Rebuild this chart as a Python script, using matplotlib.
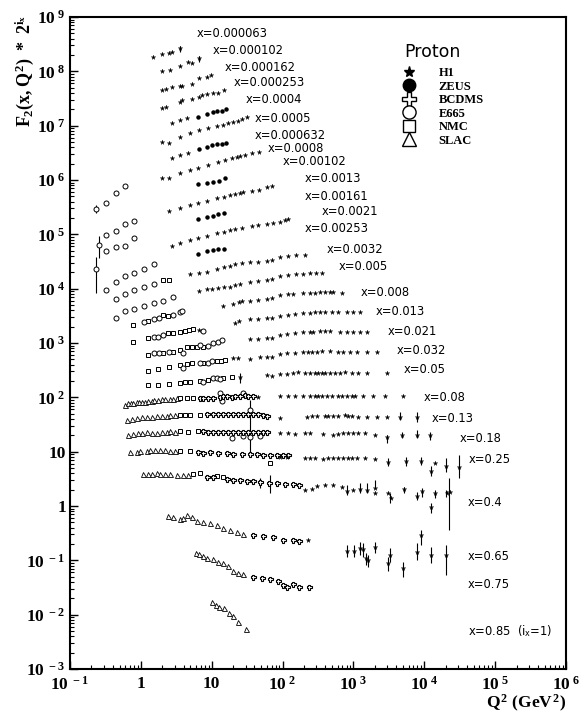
import matplotlib
matplotlib.use('Agg')
from matplotlib import pyplot as plt
from matplotlib.lines import Line2D
from matplotlib.ticker import LogLocator, NullFormatter

plt.rcParams['mathtext.fontset'] = 'custom'
plt.rcParams['mathtext.rm'] = 'Liberation Serif:bold'
plt.rcParams['mathtext.it'] = 'Liberation Serif:bold'
plt.rcParams['mathtext.bf'] = 'Liberation Serif:bold'
plt.rcParams['mathtext.sf'] = 'DejaVu Sans'

# ---- data: F2(x,Q2) * 2^i_x ----
h1_q2 = [
    1.48, 1.99, 2.49, 2.75, 3.56,                                        # x=0.000063
    1.99, 2.57, 3.56, 4.62, 5.26, 6.6,                                   # x=0.000102
    1.99, 2.26, 2.75, 3.56, 3.8, 5.26, 6.6, 8.55, 9.75,                  # x=0.000162
    1.99, 2.26, 3.56, 3.8, 5.26, 6.6, 7.27, 8.55, 10.4, 12.2, 14.9,      # x=0.000253
    2.75, 3.56, 4.47,                                                    # x=0.0004
    1.99, 2.49, 3.56, 4.93, 6.6, 8.84, 11.8, 14.4, 16.9, 19.9, 23.4, 26.7, 31.4,   # x=0.0005
    2.75, 3.56, 4.62,                                                    # x=0.000632
    1.99, 2.49, 3.56, 4.93, 6.39, 8.84, 12.2, 15.4, 19.3, 22.7, 25.0, 29.4, 36.9, 46.3,  # x=0.0008
    2.49, 3.56, 4.93, 6.39, 8.55, 11.8, 14.9, 18.1, 21.2, 25.0, 27.5, 36.9, 46.3, 60.1, 70.6,  # x=0.0013
    2.75, 3.56, 4.93, 6.39, 8.55, 11.8, 14.9, 18.1, 21.2, 26.7, 36.9, 44.8, 60.1, 73.0, 91.6, 108, 119,  # x=0.0021
    4.93, 6.6, 8.55, 11.8, 14.9, 18.1, 21.2, 26.7, 34.6, 44.8, 60.1, 70.6, 91.6, 119, 154, 206,  # x=0.0032
    6.6, 8.55, 10.1, 12.2, 14.9, 18.1, 21.2, 25.0, 34.6, 44.8, 60.1, 70.6, 91.6, 119, 154, 193, 243, 295, 358,  # x=0.005
    14.4, 19.9, 24.2, 26.7, 34.6, 44.8, 60.1, 70.6, 91.6, 119, 140, 193, 243, 286, 336, 395, 465, 512, 686,  # x=0.008
    6.6, 21.2, 24.2, 34.6, 44.8, 60.1, 70.6, 91.6, 119, 149, 193, 243, 286, 336, 395, 496, 603, 807, 982, 1230,  # x=0.013
    34.6, 44.8, 60.1, 70.6, 91.6, 115, 149, 193, 243, 268, 336, 395, 465, 643, 807, 982, 1230, 1545,  # x=0.021
    19.9, 23.4, 34.6, 47.9, 60.1, 70.6, 91.6, 115, 149, 193, 227, 259, 305, 358, 465, 603, 709, 889, 1117, 1545, 2138,  # x=0.032
    25.0, 60.1, 70.6, 91.6, 115, 140, 164, 206, 243, 286, 315, 358, 395, 465, 546, 643, 755, 948, 1153, 1545, 2951,  # x=0.05
    44.8, 91.6, 119, 149, 193, 243, 286, 315, 358, 421, 496, 603, 686, 807, 948, 1047, 1357, 1878, 2773, 4975,  # x=0.08
    91.6, 220, 259, 305, 395, 435, 512, 603, 755, 834, 948, 1153, 1545, 2138, 2951, 4510, 7834,  # x=0.13
    91.6, 119, 149, 206, 243, 370, 512, 603, 709, 834, 982, 1153, 1449, 2004, 2951, 4818, 7834, 11960,  # x=0.18
    91.6, 115, 206, 243, 286, 370, 435, 512, 603, 709, 834, 948, 1117, 1449, 2004, 3055, 5483, 8933,
    12350, 14060, 20090, 30690,                                          # x=0.25
    206, 259, 305, 395, 512, 686, 807, 982, 1230, 1545, 2004, 2004, 3055, 3368, 5140, 7834, 9224,
    12350, 14060, 20770, 22900,                                          # x=0.4
    227, 807, 1013, 1230, 1357, 1496, 1596, 2004, 3055, 3260, 4975, 7834, 8933, 12350, 20090,  # x=0.65
]
h1_f2 = [
    1.83e8, 2.08e8, 2.17e8, 2.27e8, 2.69e8,
    1.01e8, 1.06e8, 1.25e8, 1.48e8, 1.42e8, 1.76e8,
    4.53e7, 4.72e7, 5.14e7, 5.36e7, 5.36e7, 5.83e7, 7.53e7, 7.85e7, 8.55e7,
    2.11e7, 2.20e7, 2.72e7, 2.96e7, 3.09e7, 3.36e7, 3.66e7, 3.82e7, 3.98e7, 3.98e7, 4.53e7,
    1.12e7, 1.27e7, 1.38e7,
    4.99e6, 4.78e6, 6.16e6, 7.30e6, 8.29e6, 9.04e6, 9.84e6, 1.03e7, 1.12e7, 1.16e7, 1.22e7, 1.32e7, 1.44e7,
    2.53e6, 2.88e6, 3.13e6,
    1.08e6, 1.08e6, 1.34e6, 1.52e6, 1.66e6, 1.88e6, 2.14e6, 2.32e6, 2.53e6, 2.64e6, 2.75e6, 2.88e6, 3.13e6, 3.26e6,
    2.67e5, 3.04e5, 3.45e5, 3.76e5, 4.09e5, 4.65e5, 4.85e5, 5.27e5, 5.50e5, 5.74e5, 5.99e5, 6.24e5, 6.51e5, 7.40e5, 7.72e5,
    6.06e4, 6.89e4, 7.82e4, 8.51e4, 9.27e4, 1.05e5, 1.10e5, 1.19e5, 1.25e5, 1.30e5, 1.42e5, 1.48e5, 1.54e5,
    1.61e5, 1.68e5, 1.82e5, 1.91e5,
    1.85e4, 1.93e4, 2.01e4, 2.29e4, 2.49e4, 2.60e4, 2.83e4, 2.95e4, 3.08e4, 3.08e4, 3.21e4, 3.35e4, 3.80e4,
    3.97e4, 4.14e4, 4.14e4,
    9.0e3, 9.79e3, 9.79e3, 1.02e4, 1.07e4, 1.07e4, 1.16e4, 1.21e4, 1.32e4, 1.37e4, 1.43e4, 1.50e4, 1.70e4,
    1.77e4, 1.85e4, 1.85e4, 1.93e4, 1.93e4, 1.93e4,
    4.76e3, 5.19e3, 5.65e3, 5.89e3, 5.89e3, 6.14e3, 6.41e3, 6.69e3, 7.59e3, 7.92e3, 7.92e3, 8.26e3, 8.26e3,
    8.26e3, 8.62e3, 8.62e3, 8.62e3, 8.62e3, 8.26e3,
    1.72e3, 2.32e3, 2.52e3, 2.75e3, 2.75e3, 2.87e3, 2.87e3, 3.12e3, 3.25e3, 3.40e3, 3.54e3, 3.54e3, 3.70e3,
    3.70e3, 3.70e3, 3.70e3, 3.70e3, 3.70e3, 3.70e3, 3.70e3,
    1.17e3, 1.17e3, 1.23e3, 1.23e3, 1.39e3, 1.45e3, 1.51e3, 1.58e3, 1.58e3, 1.58e3, 1.65e3, 1.65e3, 1.65e3,
    1.58e3, 1.58e3, 1.58e3, 1.58e3, 1.58e3,
    525, 525, 503, 548, 548, 548, 622, 649, 649, 677, 677, 677, 677, 707, 707, 677, 677, 677, 677, 677, 677,
    235, 255, 250, 265, 270, 278, 290, 278, 278, 278, 278, 278, 278, 278, 278, 278, 290, 278, 278, 278, 278,
    100, 105, 105, 105, 105, 105, 105, 105, 105, 105, 105, 105, 105, 105, 105, 105, 105, 105, 105, 105,
    41.2, 43.0, 44.8, 44.8, 44.8, 44.8, 44.8, 44.8, 46.8, 44.8, 44.8, 43.0, 43.0, 43.0, 43.0, 43.0, 43.0,
    21.8, 21.8, 20.9, 21.8, 21.8, 20.9, 20.1, 20.9, 21.8, 21.8, 21.8, 21.8, 21.8, 20.1, 18.4, 20.1, 20.1, 20.1,
    7.87, 7.87, 7.55, 7.55, 7.55, 7.24, 7.55, 7.55, 7.55, 7.55, 7.55, 7.55, 7.55, 7.55, 7.24, 6.38, 6.65,
    6.65, 4.35, 6.11, 5.38, 5.16,
    1.95, 2.03, 2.31, 2.41, 2.41, 2.21, 1.87, 1.95, 2.03, 1.95, 2.12, 1.71, 1.71, 1.39, 2.03, 1.51, 1.87,
    0.946, 1.71, 1.71, 1.79,
    0.234, 0.147, 0.147, 0.166, 0.159, 0.109, 0.100, 0.174, 0.088, 0.124, 0.071, 0.140, 0.289, 0.124, 0.124,
]

zeus_q2 = [
    6.39, 8.55, 10.4, 11.8, 13.9, 15.9,     # x=0.0004
    6.6, 8.55, 10.1, 11.8, 13.9, 15.9,      # x=0.000632
    6.39, 8.55, 10.4, 12.6, 15.4,           # x=0.00102
    6.39, 8.55, 10.4, 12.2, 14.9,           # x=0.00161
    6.39, 8.55, 10.4, 12.2, 14.9,           # x=0.00253
]
zeus_f2 = [
    1.44e7, 1.64e7, 1.78e7, 1.86e7, 1.86e7, 2.02e7,
    3.71e6, 4.04e6, 4.40e6, 4.58e6, 4.58e6, 4.78e6,
    8.40e5, 8.77e5, 9.14e5, 9.53e5, 1.08e6,
    1.91e5, 2.07e5, 2.16e5, 2.36e5, 2.46e5,
    4.32e4, 4.91e4, 5.12e4, 5.34e4, 5.34e4,
]

bcdms_q2 = [
    6.82, 7.51, 8.84, 10.4, 13.0, 14.4, 16.4, 19.3, 21.2, 25.0, 29.4, 32.4, 38.1,            # x=0.08
    8.55, 10.4, 12.2, 14.4, 16.9, 19.9, 23.4, 27.5, 32.4, 38.1, 44.8, 52.7, 60.1,           # x=0.13
    7.51, 8.84, 10.4, 12.2, 14.4, 16.9, 19.9, 23.4, 27.5, 32.4, 38.1, 44.8, 52.7, 60.1,     # x=0.18
    6.39, 7.51, 9.44, 12.2, 16.4, 19.9, 26.7, 34.6, 43.4, 52.7, 66.2, 83.2, 101, 119,       # x=0.25
    8.55, 10.4, 16.4, 19.9, 25.0, 31.4, 38.1, 47.9, 64.1, 83.2, 108, 140, 170,              # x=0.4
    38.1, 52.7, 73.0, 101, 140, 170,                                                        # x=0.65
    38.1, 51.0, 66.2, 85.9, 101, 115, 140, 170, 235,                                        # x=0.75
]
bcdms_f2 = [
    96.2, 96.2, 96.2, 96.2, 100, 105, 105, 100, 105, 105, 109, 105, 105,
    48.8, 48.8, 48.8, 48.8, 48.8, 48.8, 48.8, 48.8, 48.8, 48.8, 48.8, 46.8, 44.8,
    23.8, 22.8, 22.8, 22.8, 22.8, 22.8, 22.8, 22.8, 22.8, 22.8, 22.8, 22.8, 22.8, 22.8,
    9.75, 9.34, 9.75, 9.34, 9.34, 8.95, 8.95, 8.95, 8.95, 8.58, 8.58, 8.58, 8.58, 8.58,
    3.38, 3.38, 3.10, 2.97, 2.97, 2.85, 2.85, 2.73, 2.62, 2.62, 2.51, 2.51, 2.41,
    0.289, 0.277, 0.265, 0.234, 0.234, 0.224,
    0.049, 0.047, 0.045, 0.041, 0.035, 0.032, 0.036, 0.033, 0.032,
]

e665_q2 = [
    0.232, 0.322, 0.446, 0.597,
    0.256, 0.322, 0.446, 0.597, 0.80,
    0.232, 0.322, 0.446, 0.597, 0.80,
    0.322, 0.446, 0.597, 0.80, 1.11, 1.53,
    0.446, 0.597, 0.80, 1.11, 1.53,
    0.446, 0.597, 0.80, 1.11, 1.53, 2.05, 2.84,
    1.11, 1.53, 1.80, 2.84, 3.56, 3.80,                 # x=0.008
    1.53, 1.74, 2.05, 7.51,                             # x=0.013
    1.53, 1.80, 2.49, 3.92, 6.82, 8.84, 10.4, 12.2, 13.9,   # x=0.021
    3.92, 6.82, 8.84, 10.1,                             # x=0.032
    7.51, 10.4, 11.8, 13.0,                             # x=0.05
    13.0, 13.9, 27.5,                                   # x=0.08
    34.6,                                               # x=0.13
    19.3, 27.5, 34.6, 47.9,                             # x=0.18
]
e665_f2 = [
    2.91e5, 3.76e5, 5.74e5, 7.72e5,
    6.32e4, 9.66e4, 1.15e5, 1.54e5, 1.75e5,
    2.29e4, 4.91e4, 5.81e4, 6.06e4, 8.51e4,
    9.40e3, 1.32e4, 1.70e4, 1.93e4, 2.29e4, 2.83e4,
    6.41e3, 7.92e3, 9.40e3, 1.07e4, 1.21e4,
    2.86e3, 3.85e3, 4.19e3, 4.76e3, 5.41e3, 5.89e3, 6.98e3,
    2.42e3, 2.75e3, 2.86e3, 3.25e3, 3.70e3, 3.85e3,
    1.28e3, 1.28e3, 1.39e3, 1.65e3,
    649, 649, 677, 649, 911, 873, 991, 1035, 1127,
    344, 425, 425, 462,
    190, 225, 225, 216,
    119, 84.7, 119,
    57.8,
    17.7, 19.2, 18.4, 19.2,
]

nmc_q2 = [
    2.05, 2.49,
    0.774, 1.26, 2.05, 2.41,
    0.774, 1.26, 2.41, 2.84, 3.56, 4.19, 4.77, 5.43,
    1.26, 2.05, 2.84, 3.56, 4.47, 5.26, 6.18, 7.51,
    1.26, 1.74, 2.49, 3.56, 4.47, 5.26, 7.51, 11.8, 13.5, 15.4,
    1.26, 1.74, 2.49, 3.56, 4.19, 4.93, 6.82, 8.84, 14.4, 19.3,
    3.56, 4.47, 5.43,
    3.56, 4.19, 4.93, 6.82,
    3.56, 4.62, 6.39,
    3.56, 4.93, 66.2,
    5.43, 6.82, 11.8, 14.4,
]
nmc_f2 = [
    1.43e4, 1.43e4,
    2.13e3, 2.52e3, 3.25e3, 3.12e3,
    1.03e3, 1.23e3, 1.51e3, 1.51e3, 1.58e3, 1.65e3, 1.72e3, 1.80e3,
    596, 649, 677, 737, 837, 837, 837, 837,
    303, 330, 359, 391, 407, 425, 425, 462, 462, 482,
    167, 167, 174, 182, 190, 190, 198, 207, 225, 235,
    96.2, 96.2, 96.2,
    46.8, 46.8, 46.8, 46.8,
    23.8, 22.8, 23.8,
    10.2, 10.2, 6.11,
    3.84, 4.0, 3.52, 3.38,
]

slac_q2 = [
    0.597, 0.658, 0.725, 0.774, 0.881, 0.940, 1.04, 1.14, 1.26, 1.43, 1.53, 1.74, 1.99, 2.19, 2.57, 2.84, 3.23,
    0.637, 0.748, 0.881, 1.04, 1.22, 1.43, 1.69, 1.99, 2.33, 2.57, 3.03,
    0.658, 0.774, 0.910, 1.04, 1.22, 1.43, 1.69, 1.99, 2.33, 2.57, 3.03,
    0.702, 0.881, 0.971, 1.22, 1.34, 1.58, 1.86, 2.19, 2.57, 3.03,
    1.07, 1.26, 1.43, 1.69, 1.86, 2.19, 2.57, 3.23, 3.92, 4.62,
    2.41, 2.84, 3.56, 3.92, 4.47, 5.26, 6.18, 7.51, 9.44, 11.8, 14.4, 18.1, 22.7, 27.5,
    5.98, 6.6, 7.51, 8.55, 10.4, 12.2, 14.4, 16.9, 19.9, 23.4, 27.5,
    10.1, 11.5, 12.6, 14.9, 17.5, 19.9, 23.4, 30.4,
]
slac_f2 = [
    71.6, 77.9, 77.9, 77.9, 81.3, 81.3, 81.3, 81.3, 84.7, 84.7, 88.4, 88.4, 92.2, 92.2, 92.2, 92.2, 96.2,
    37.9, 39.5, 41.2, 43.0, 43.0, 43.0, 44.8, 44.8, 44.8, 46.8, 46.8,
    20.1, 20.9, 21.8, 21.8, 22.8, 21.8, 21.8, 22.8, 22.8, 23.8, 22.8,
    9.75, 9.75, 10.2, 10.2, 10.6, 10.6, 10.6, 10.6, 10.2, 10.2,
    3.84, 3.84, 3.84, 4.0, 3.84, 3.84, 3.84, 3.67, 3.67, 3.67,
    0.646, 0.619, 0.569, 0.594, 0.674, 0.619, 0.523, 0.501, 0.480, 0.441, 0.388, 0.357, 0.328, 0.301,
    0.135, 0.129, 0.119, 0.109, 0.104, 0.092, 0.088, 0.078, 0.065, 0.058, 0.055,
    0.0169, 0.0148, 0.0136, 0.0131, 0.0106, 0.0093, 0.0072, 0.0054,
]

# visible error bars (Q2, low, high)
err_q2 = [3.56, 6.6, 0.232, 0.256, 0.232, 25.0, 34.6, 4510, 7834,
          2951, 4818, 7834, 11960,
          3055, 5483, 8933, 12350, 20090, 30690,
          807, 1230, 1545, 2004, 3260, 5140, 7834, 9224, 12350, 14060, 20090, 22170, 47.9, 66.2,
          807, 1013, 1230, 1357, 1496, 1596, 2004, 3055, 3260, 4975, 7834, 8933, 12350, 20090]
err_lo = [2.27e8, 1.48e8, 2.46e5, 3.65e4, 8.26e3, 182, 9.75, 37.9, 34.8,
          14.3, 17.7, 17.7, 16.2,
          5.38, 5.38, 5.61, 3.52, 4.18, 3.24,
          1.57, 1.71, 1.71, 2.21, 1.12, 1.71, 1.27, 1.45, 0.734, 1.39, 1.45, 0.357, 2.12, 1.71,
          0.114, 0.114, 0.124, 0.114, 0.081, 0.074, 0.135, 0.065, 0.092, 0.049, 0.100, 0.189, 0.088, 0.053]
err_hi = [2.92e8, 1.91e8, 3.45e5, 9.27e4, 3.80e4, 278, 88.4, 53.2, 53.2,
          20.1, 22.8, 24.8, 22.8,
          7.55, 7.87, 7.87, 5.38, 7.55, 8.58,
          2.41, 2.62, 2.62, 2.97, 1.71, 2.21, 1.79, 2.12, 1.12, 1.95, 1.95, 3.24, 3.24, 3.67,
          0.189, 0.189, 0.215, 0.206, 0.135, 0.124, 0.215, 0.114, 0.166, 0.092, 0.206, 0.357, 0.174, 0.189]

x_bins = ['x=0.000063', 'x=0.000102', 'x=0.000162', 'x=0.000253', 'x=0.0004', 'x=0.0005',
          'x=0.000632', 'x=0.0008', 'x=0.00102', 'x=0.0013', 'x=0.00161', 'x=0.0021',
          'x=0.00253', 'x=0.0032', 'x=0.005', 'x=0.008', 'x=0.013', 'x=0.021', 'x=0.032',
          'x=0.05', 'x=0.08', 'x=0.13', 'x=0.18', 'x=0.25', 'x=0.4', 'x=0.65', 'x=0.75',
          r'x=0.85  (i$_{\mathsf{x}}$=1)']
# label anchors in axes fraction
lab_x = [0.256, 0.288, 0.3125, 0.329, 0.355, 0.373, 0.373, 0.399, 0.429, 0.474, 0.474, 0.508,
         0.474, 0.518, 0.542, 0.585, 0.617, 0.641, 0.659, 0.673, 0.712, 0.730, 0.786, 0.804,
         0.802, 0.802, 0.802, 0.802]
lab_y = [0.975, 0.948, 0.923, 0.899, 0.873, 0.845, 0.819, 0.799, 0.778, 0.752, 0.725, 0.701,
         0.675, 0.644, 0.617, 0.578, 0.548, 0.518, 0.488, 0.459, 0.417, 0.385, 0.354, 0.321,
         0.256, 0.172, 0.129, 0.058]

xticks = [1e-1, 1, 10, 1e2, 1e3, 1e4, 1e5, 1e6]
xticklabels = [r'$10^{\ -1}$', '1', '10', r'$10^{\ 2}$', r'$10^{\ 3}$', r'$10^{\ 4}$',
               r'$10^{\ 5}$', r'$10^{\ 6}$']
yticks = [1e-3, 1e-2, 1e-1, 1, 10, 1e2, 1e3, 1e4, 1e5, 1e6, 1e7, 1e8, 1e9]
yticklabels = [r'$10^{\ -3}$', r'$10^{\ -2}$', r'$10^{\ -1}$', '1', '10', r'$10^{\ 2}$',
               r'$10^{\ 3}$', r'$10^{\ 4}$', r'$10^{\ 5}$', r'$10^{\ 6}$', r'$10^{\ 7}$',
               r'$10^{\ 8}$', r'$10^{\ 9}$']

fig = plt.figure(figsize=(5.85, 7.19), dpi=100)
ax = fig.add_axes([0.1197, 0.0695, 0.8479, 0.9068])
ax.set_xscale('log')
ax.set_yscale('log')
ax.set_xlim(1e-1, 1e6)
ax.set_ylim(1e-3, 1e9)

ax.vlines(err_q2, err_lo, err_hi, colors='black', linewidth=0.8, zorder=2)

ax.plot(slac_q2, slac_f2, ls='', marker='^', ms=3.6, mfc='white', mec='black', mew=0.6, zorder=3)
ax.plot(nmc_q2, nmc_f2, ls='', marker='s', ms=3.2, mfc='white', mec='black', mew=0.7, zorder=3)
ax.plot(e665_q2, e665_f2, ls='', marker='o', ms=3.6, mfc='white', mec='black', mew=0.7, zorder=3)
ax.plot(bcdms_q2, bcdms_f2, ls='', marker='P', ms=3.6, mfc='white', mec='black', mew=0.8, zorder=3)
ax.plot(zeus_q2, zeus_f2, ls='', marker='o', ms=2.2, color='black', zorder=4)
ax.plot(h1_q2, h1_f2, ls='', marker='*', ms=3.5, color='black', mew=0.2, zorder=4)

for lab, lx, ly in zip(x_bins, lab_x, lab_y):
    ax.text(lx, ly, lab, transform=ax.transAxes, ha='left', va='center',
            fontsize=8.3, family='DejaVu Sans')

handles = [
    Line2D([], [], ls='', marker='*', ms=8, color='black'),
    Line2D([], [], ls='', marker='o', ms=9, color='black'),
    Line2D([], [], ls='', marker='P', ms=10, mfc='white', mec='black', mew=1.0),
    Line2D([], [], ls='', marker='o', ms=9.5, mfc='white', mec='black', mew=1.0),
    Line2D([], [], ls='', marker='s', ms=9, mfc='white', mec='black', mew=1.0),
    Line2D([], [], ls='', marker='^', ms=9.5, mfc='white', mec='black', mew=1.0),
]
ax.text(0.674, 0.946, 'Proton', transform=ax.transAxes, ha='left', va='center',
        fontsize=12.5, family='DejaVu Sans')
ax.legend(handles, ['H1', 'ZEUS', 'BCDMS', 'E665', 'NMC', 'SLAC'],
          loc='upper left', bbox_to_anchor=(0.67, 0.923),
          frameon=False, handlelength=1.0, handletextpad=1.9,
          labelspacing=0.12, borderpad=0, borderaxespad=0,
          prop={'family': 'Liberation Serif', 'weight': 'bold', 'size': 9})

ax.set_xticks(xticks)
ax.set_xticklabels(xticklabels)
ax.set_yticks(yticks)
ax.set_yticklabels(yticklabels)
ax.xaxis.set_minor_locator(LogLocator(base=10, subs=range(2, 10), numticks=20))
ax.yaxis.set_minor_locator(LogLocator(base=10, subs=range(2, 10), numticks=30))
ax.xaxis.set_minor_formatter(NullFormatter())
ax.yaxis.set_minor_formatter(NullFormatter())
for tl in ax.get_xticklabels() + ax.get_yticklabels():
    tl.set_fontfamily('Liberation Serif')
    tl.set_fontweight('bold')
    tl.set_fontsize(12.5)

ax.tick_params(which='both', direction='in', top=False, right=False)
ax.tick_params(which='major', length=6, width=1.0)
ax.tick_params(axis='x', which='major', pad=5)
ax.tick_params(axis='y', which='major', pad=3)
ax.tick_params(which='minor', length=3, width=0.8)
for sp in ax.spines.values():
    sp.set_linewidth(1.5)

fig.text(0.042, 0.979, r'$F_2(x,Q^2)\ *\ 2^{i_x}$', rotation=90, ha='center', va='top', fontsize=13)
fig.text(0.9675, 0.021, r'$Q^2\ (GeV^2)$', ha='right', va='center', fontsize=12.5)

fig.savefig('out.png', dpi=100)
